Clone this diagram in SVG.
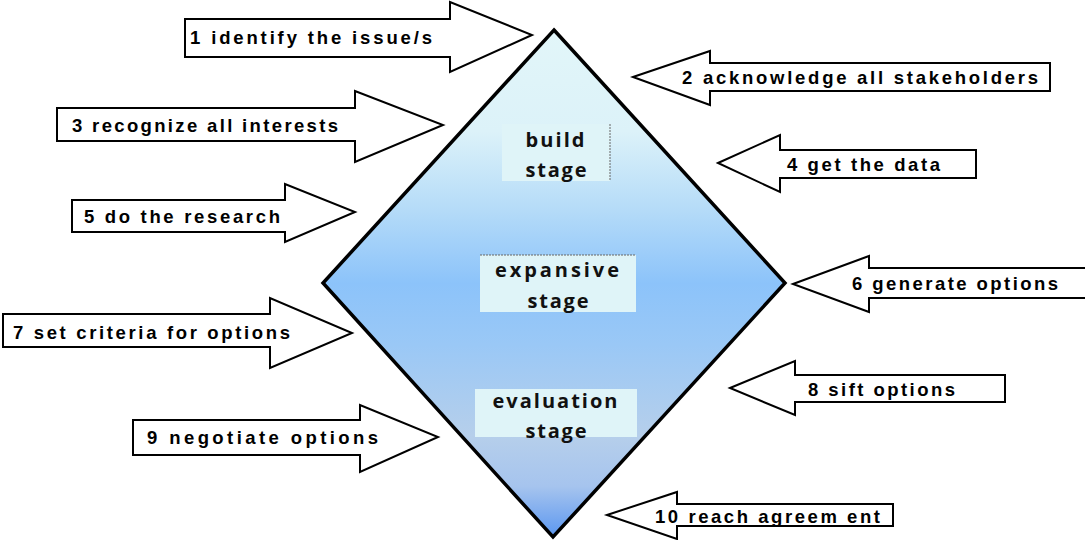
<svg xmlns="http://www.w3.org/2000/svg" width="1085" height="540" viewBox="0 0 1085 540">
<defs>
<linearGradient id="dg" x1="0" y1="30" x2="0" y2="537" gradientUnits="userSpaceOnUse">
<stop offset="0" stop-color="#e2f6f9"/>
<stop offset="0.2" stop-color="#dcf2f9"/>
<stop offset="0.35" stop-color="#b6dcf8"/>
<stop offset="0.5" stop-color="#8cc3fa"/>
<stop offset="0.62" stop-color="#9ac8f6"/>
<stop offset="0.8" stop-color="#b6cfeb"/>
<stop offset="0.9" stop-color="#a6c4ee"/>
<stop offset="1" stop-color="#5b97f0"/>
</linearGradient>
</defs>
<style>
.arr{fill:#fff;stroke:#000;stroke-width:2;stroke-linejoin:miter}
.lbl{font-family:"Liberation Sans",Arial,sans-serif;font-weight:bold;font-size:18.5px;fill:#000}
.box{fill:#dff4f8}
.stg{font-family:"Open Sans","Liberation Sans",sans-serif;font-weight:bold;font-size:20px;fill:#111;text-anchor:middle}
</style>
<g id="diamond">
<polygon points="554,30 785,283 553,537 323,283" fill="url(#dg)" stroke="#000" stroke-width="3.5" stroke-linejoin="miter"/>
</g>
<g id="build">
<rect class="box" x="502" y="124" width="108" height="57"/>
<line x1="610" y1="124" x2="610" y2="181" stroke="#666" stroke-width="1" stroke-dasharray="2,1"/>
<text class="stg" x="555" y="147" textLength="59" lengthAdjust="spacing">build</text>
<text class="stg" x="556" y="177" textLength="61" lengthAdjust="spacing">stage</text>
</g>
<g id="expansive">
<rect class="box" x="480" y="255" width="156" height="57"/>
<line x1="480" y1="255" x2="636" y2="255" stroke="#666" stroke-width="1" stroke-dasharray="2,1"/>
<text class="stg" x="557" y="277" textLength="124" lengthAdjust="spacing">expansive</text>
<text class="stg" x="558" y="308" textLength="61" lengthAdjust="spacing">stage</text>
</g>
<g id="evaluation">
<rect class="box" x="475" y="389" width="162" height="48"/>
<text class="stg" x="555" y="408" textLength="125" lengthAdjust="spacing">evaluation</text>
<text class="stg" x="556" y="438" textLength="61" lengthAdjust="spacing">stage</text>
</g>
<g id="connectors">
<g id="a1"><polygon class="arr" points="185,19 450,19 450,2 532,35 450,72 450,57 185,57"/>
<text class="lbl" x="190" y="44" textLength="242" lengthAdjust="spacing">1 identify the issue/s</text></g>
<g id="a2"><polygon class="arr" points="633,77 710,51 710,63 1050,63 1050,91 710,91 710,105"/>
<text class="lbl" x="682" y="84" textLength="356" lengthAdjust="spacing">2 acknowledge  all stakeholders</text></g>
<g id="a3"><polygon class="arr" points="57,108 355,108 355,91 443,125 355,162 355,141 57,141"/>
<text class="lbl" x="72" y="132" textLength="266" lengthAdjust="spacing">3 recognize all interests</text></g>
<g id="a4"><polygon class="arr" points="718,163 780,135 780,150 976,150 976,178 780,178 780,192"/>
<text class="lbl" x="787" y="171" textLength="153" lengthAdjust="spacing">4 get the data</text></g>
<g id="a5"><polygon class="arr" points="72,200 285,200 285,184 355,212 285,242 285,232 72,232"/>
<text class="lbl" x="84" y="223" textLength="196" lengthAdjust="spacing">5 do the research</text></g>
<g id="a6"><polygon class="arr" points="793,284 869,256 869,268 1090,268 1090,298 869,298 869,312"/>
<text class="lbl" x="852" y="290" textLength="206" lengthAdjust="spacing">6 generate options</text></g>
<g id="a7"><polygon class="arr" points="3,314 270,314 270,298 352,333 270,368 270,347 3,347"/>
<text class="lbl" x="13" y="339" textLength="277" lengthAdjust="spacing">7 set criteria for options</text></g>
<g id="a8"><polygon class="arr" points="730,388 795,361 795,375 1005,375 1005,402 795,402 795,415"/>
<text class="lbl" x="808" y="396" textLength="147" lengthAdjust="spacing">8 sift options</text></g>
<g id="a9"><polygon class="arr" points="133,420 360,420 360,405 438,437 360,472 360,455 133,455"/>
<text class="lbl" x="147" y="444" textLength="231" lengthAdjust="spacing">9 negotiate options</text></g>
<g id="a10"><polygon class="arr" points="607,515 677,492 677,504 893,504 893,526 677,526 677,539"/>
<text class="lbl" x="655" y="523" textLength="225" lengthAdjust="spacing">10 reach agreem ent</text></g>
</g>
</svg>
